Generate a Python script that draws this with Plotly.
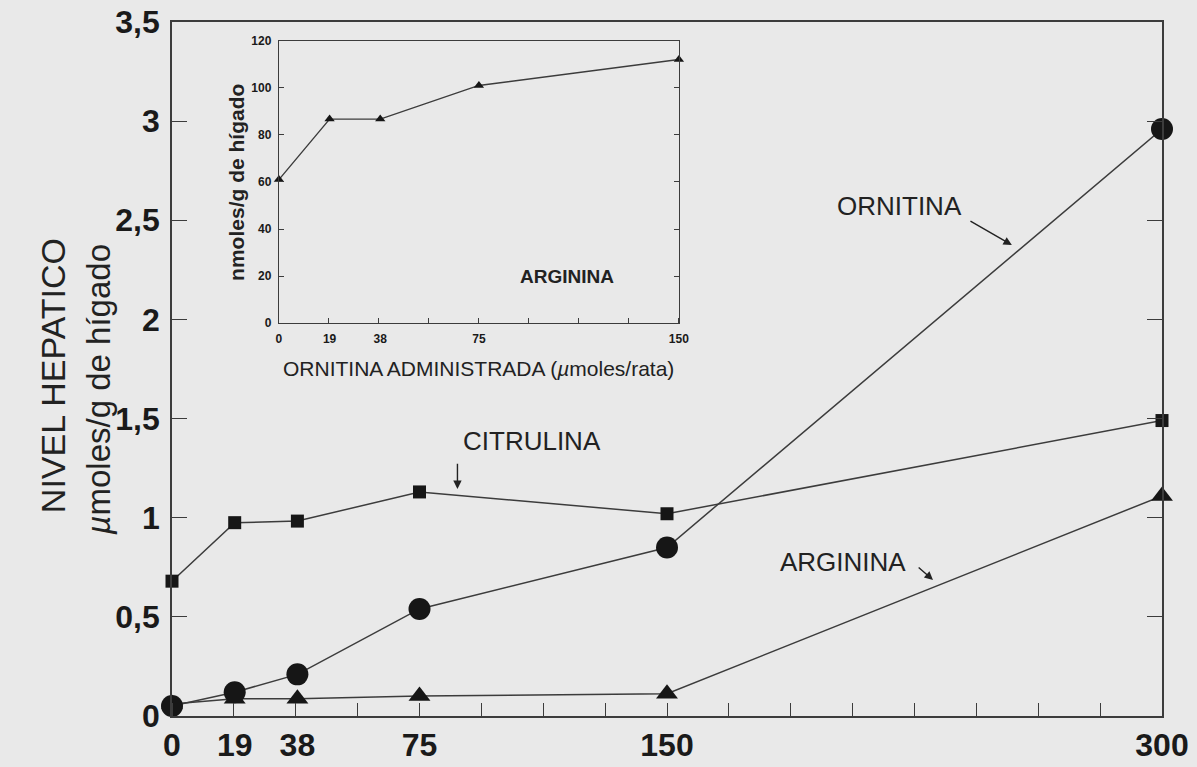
import plotly.graph_objects as go

# ---- data ----
dose = [0, 19, 38, 75, 150, 300]
dose_labels = ["0", "19", "38", "75", "150", "300"]
ornitina = [0.05, 0.12, 0.21, 0.54, 0.85, 2.96]
citrulina = [0.68, 0.975, 0.983, 1.13, 1.02, 1.49]
arginina = [0.061, 0.087, 0.087, 0.101, 0.112, 1.11]

y_ticks = [0, 0.5, 1, 1.5, 2, 2.5, 3, 3.5]
y_labels = ["0", "0,5", "1", "1,5", "2", "2,5", "3", "3,5"]

inset_dose = [0, 19, 38, 75, 150]
inset_labels = ["0", "19", "38", "75", "150"]
inset_arginina = [61, 86.7, 86.7, 101, 112]
inset_y_ticks = [0, 20, 40, 60, 80, 100, 120]

BG = "#e9e9e9"
LINE = "#3c3c3c"
MK = "#161616"
FONT = "Liberation Sans, Arial, sans-serif"

fig = go.Figure()

fig.add_trace(go.Scatter(x=dose, y=citrulina, mode="lines+markers",
                         line=dict(color=LINE, width=1.5),
                         marker=dict(symbol="square", size=13, color=MK),
                         cliponaxis=False, showlegend=False))
fig.add_trace(go.Scatter(x=dose, y=arginina, mode="lines+markers",
                         line=dict(color=LINE, width=1.5),
                         marker=dict(symbol="triangle-up", size=19, color=MK),
                         cliponaxis=False, showlegend=False))
fig.add_trace(go.Scatter(x=dose, y=ornitina, mode="lines+markers",
                         line=dict(color=LINE, width=1.5),
                         marker=dict(symbol="circle", size=22, color=MK),
                         cliponaxis=False, showlegend=False))

# inset
fig.add_trace(go.Scatter(x=inset_dose, y=inset_arginina, mode="lines+markers",
                         xaxis="x2", yaxis="y2",
                         line=dict(color=LINE, width=1.4),
                         marker=dict(symbol="triangle-up", size=9, color=MK),
                         cliponaxis=False, showlegend=False))

tickfont_main = dict(family=FONT, size=32, color="#1a1a1a", weight="bold")
tickfont_inset = dict(family=FONT, size=12, color="#1a1a1a", weight="bold")

fig.update_layout(
    width=1197, height=767,
    margin=dict(l=172, r=35, t=22, b=51),
    paper_bgcolor=BG, plot_bgcolor=BG,
    xaxis=dict(range=[0, 300], tickmode="array", tickvals=dose, ticktext=dose_labels,
               ticks="", showgrid=False, zeroline=False, automargin=False,
               showline=True, linecolor=LINE, linewidth=1.6, mirror=True,
               tickfont=tickfont_main, ticklabelstandoff=0,
               minor=dict(tickmode="linear", tick0=0, dtick=18.75, ticks="inside",
                          ticklen=13, tickcolor=LINE, tickwidth=1.2, showgrid=False)),
    yaxis=dict(range=[0, 3.5], tickmode="array", tickvals=y_ticks, ticktext=y_labels,
               ticks="inside", ticklen=15, tickcolor=LINE, tickwidth=1.2,
               showgrid=False, zeroline=False, automargin=False,
               showline=True, linecolor=LINE, linewidth=1.6, mirror="ticks",
               tickfont=tickfont_main, ticklabelstandoff=4),
    xaxis2=dict(domain=[0.108, 0.512], anchor="y2", range=[0, 150],
                tickmode="array", tickvals=inset_dose, ticktext=inset_labels,
                ticks="", showgrid=False, zeroline=False, automargin=False,
                showline=True, linecolor=LINE, linewidth=1.4, mirror=True,
                tickfont=tickfont_inset, ticklabelstandoff=4,
                minor=dict(tickmode="linear", tick0=0, dtick=18.75, ticks="inside",
                           ticklen=5, tickcolor=LINE, tickwidth=1, showgrid=False)),
    yaxis2=dict(domain=[0.566, 0.973], anchor="x2", range=[0, 120],
                tickmode="array", tickvals=inset_y_ticks,
                ticks="inside", ticklen=5, tickcolor=LINE, tickwidth=1,
                showgrid=False, zeroline=False, automargin=False,
                showline=True, linecolor=LINE, linewidth=1.4, mirror="ticks",
                tickfont=tickfont_inset, ticklabelstandoff=4),
)

annot_font = dict(family=FONT, size=26, color="#222222")
anns = [
    # axis titles (main)
    dict(text="NIVEL HEPATICO", xref="paper", yref="paper", x=-0.12, y=0.49,
         xanchor="center", yanchor="middle", textangle=-90, showarrow=False,
         font=dict(family=FONT, size=34, color="#222222")),
    dict(text="<i>µ</i>moles/g de hígado", xref="paper", yref="paper", x=-0.074, y=0.47,
         xanchor="center", yanchor="middle", textangle=-90, showarrow=False,
         font=dict(family=FONT, size=33, color="#222222")),
    # series labels
    dict(text="CITRULINA", x=109, y=1.386, xref="x", yref="y", showarrow=False, font=annot_font),
    dict(text="ORNITINA", x=220.6, y=2.57, xref="x", yref="y", showarrow=False, font=annot_font),
    dict(text="ARGININA", x=203.3, y=0.777, xref="x", yref="y", showarrow=False, font=annot_font),
    # arrows
    dict(text="", x=86.5, y=1.145, ax=86.5, ay=1.28, xref="x", yref="y", axref="x", ayref="y",
         showarrow=True, arrowhead=2, arrowsize=1.2, arrowwidth=1.4, arrowcolor="#222222"),
    dict(text="", x=254.5, y=2.375, ax=241.5, ay=2.5, xref="x", yref="y", axref="x", ayref="y",
         showarrow=True, arrowhead=2, arrowsize=1.2, arrowwidth=1.4, arrowcolor="#222222"),
    dict(text="", x=230.6, y=0.686, ax=225.8, ay=0.756, xref="x", yref="y", axref="x", ayref="y",
         showarrow=True, arrowhead=2, arrowsize=1.2, arrowwidth=1.4, arrowcolor="#222222"),
    # inset texts
    dict(text="ARGININA", x=108, y=20, xref="x2", yref="y2", showarrow=False,
         font=dict(family=FONT, size=19, color="#222222", weight="bold")),
    dict(text="ORNITINA ADMINISTRADA (<i>µ</i>moles/rata)", x=75, y=-0.16, xref="x2",
         yref="y2 domain", showarrow=False, yanchor="middle",
         font=dict(family=FONT, size=21, color="#222222")),
    dict(text="nmoles/g de hígado", x=-0.105, y=0.5, xref="x2 domain", yref="y2 domain",
         showarrow=False, textangle=-90, xanchor="center", yanchor="middle",
         font=dict(family=FONT, size=21, color="#222222", weight="bold")),
]
fig.update_layout(annotations=anns)

fig.write_html("out.html")
